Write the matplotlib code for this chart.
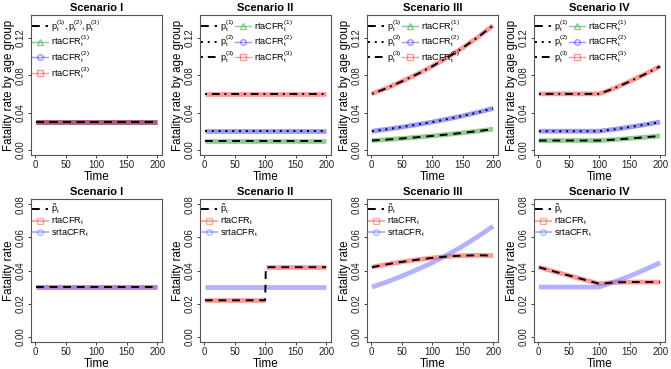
import matplotlib
matplotlib.use("Agg")
import matplotlib.pyplot as plt
import numpy as np
from matplotlib.lines import Line2D

plt.rcParams["font.family"] = ["Liberation Sans", "DejaVu Sans"]
plt.rcParams["mathtext.fontset"] = "custom"
plt.rcParams["mathtext.rm"] = "Liberation Sans"
plt.rcParams["mathtext.it"] = "Liberation Sans:italic"

# time points
t = [1, 25, 50, 75, 100, 125, 150, 175, 200]
t_step = [1, 25, 50, 75, 100, 101, 125, 150, 175, 200]

# top row: age-group fatality rates
sc1_g1 = [0.03] * 9
sc1_g2 = [0.03] * 9
sc1_g3 = [0.03] * 9
sc2_g1 = [0.01] * 9
sc2_g2 = [0.02] * 9
sc2_g3 = [0.06] * 9
sc3_g1 = [0.010, 0.011, 0.0122, 0.0135, 0.0149, 0.0165, 0.0182, 0.0201, 0.0222]
sc3_g2 = [0.020, 0.022, 0.0244, 0.027, 0.0298, 0.033, 0.0364, 0.0402, 0.0444]
sc3_g3 = [0.060, 0.066, 0.0733, 0.081, 0.0895, 0.099, 0.1093, 0.1207, 0.1333]
sc4_g1 = [0.01, 0.01, 0.01, 0.01, 0.01, 0.0110, 0.0122, 0.0135, 0.0149]
sc4_g2 = [0.02, 0.02, 0.02, 0.02, 0.02, 0.022, 0.0244, 0.027, 0.0298]
sc4_g3 = [0.06, 0.06, 0.06, 0.06, 0.06, 0.066, 0.0733, 0.081, 0.0895]

# bottom row: overall fatality rate
b1_p = [0.03] * 9
b1_srta = [0.03] * 9
b2_p = [0.022, 0.022, 0.022, 0.022, 0.022, 0.042, 0.042, 0.042, 0.042, 0.042]
b2_srta = [0.03] * 10
b3_p = [0.042, 0.0437, 0.0452, 0.0465, 0.0476, 0.0485, 0.0490, 0.0492, 0.0490]
b3_srta = [0.030, 0.0330, 0.0366, 0.0405, 0.0447, 0.0495, 0.0547, 0.0605, 0.0668]
b4_p = [0.042, 0.0395, 0.037, 0.0345, 0.032, 0.0328, 0.033, 0.033, 0.033]
b4_srta = [0.03, 0.03, 0.03, 0.03, 0.03, 0.0332, 0.0366, 0.0405, 0.0447]

titles = ["Scenario I", "Scenario II", "Scenario III", "Scenario IV"]
top_data = [(sc1_g1, sc1_g2, sc1_g3), (sc2_g1, sc2_g2, sc2_g3),
            (sc3_g1, sc3_g2, sc3_g3), (sc4_g1, sc4_g2, sc4_g3)]
bot_data = [(t, b1_p, b1_srta), (t_step, b2_p, b2_srta),
            (t, b3_p, b3_srta), (t, b4_p, b4_srta)]

green = (0.15, 0.6, 0.15)
blue = (0.2, 0.2, 1.0)
lblue = (0.45, 0.45, 1.0)
red = (1.0, 0.2, 0.2)

W, H = 671, 369
fig = plt.figure(figsize=(W / 100, H / 100), dpi=100)

lefts = [31, 200, 367, 534]
width = 131
rows = [(15, 155), (199, 342)]

dash = (0, (4, 3))
dot = (0, (1, 2.5))
dashdot = (0, (1, 2.5, 4, 2.5))
leg_kw = dict(loc="upper left", bbox_to_anchor=(0.0, 0.985), frameon=False,
              fontsize=6.6, handlelength=1.8, handletextpad=0.3,
              labelspacing=0.0, borderpad=0.1, borderaxespad=0)


def style_axes(ax, yticks, ylabel, title):
    ax.set_xlim(-7, 208)
    ax.set_xticks([0, 50, 100, 150, 200])
    ax.set_yticks(yticks)
    ax.set_yticklabels([f"{v:.2f}" for v in yticks], rotation=90, va="center")
    ax.tick_params(length=2.3, width=0.6, labelsize=7, pad=1.5, colors="#222")
    for s in ax.spines.values():
        s.set_color("#555")
        s.set_linewidth(0.8)
    ax.set_xlabel("Time", fontsize=8.5, labelpad=0.5)
    ax.set_ylabel(ylabel, fontsize=8.3, labelpad=0.5)
    ax.set_title(title, fontsize=8, fontweight="bold", pad=3)


def band(ax, x, y, color, alpha=0.5):
    ax.plot(x, y, color=color, lw=3.4, alpha=alpha, solid_capstyle="butt")


for i in range(4):
    top, bot = rows[0]
    ax = fig.add_axes([lefts[i] / W, (H - bot) / H, width / W, (bot - top) / H])
    g1, g2, g3 = top_data[i]
    band(ax, t, g1, green)
    band(ax, t, g2, blue)
    band(ax, t, g3, red)
    ls = [dash, dash, dash] if i == 0 else [dash, dot, dashdot]
    for g, l in zip((g1, g2, g3), ls):
        ax.plot(t, g, color="black", lw=1.4, linestyle=l)
    ax.set_ylim(-0.0055, 0.1445)
    style_axes(ax, [0, 0.04, 0.08, 0.12], "Fatality rate by age group", titles[i])

    col_h = [
        Line2D([], [], color=green, alpha=0.5, lw=1, marker="^", mfc="none", ms=4),
        Line2D([], [], color=blue, alpha=0.5, lw=1, marker="o", mfc="none", ms=4),
        Line2D([], [], color=red, alpha=0.5, lw=1, marker="s", mfc="none", ms=4),
    ]
    col_l = [r"rtaCFR$_\mathrm{t}^{(1)}$", r"rtaCFR$_\mathrm{t}^{(2)}$",
             r"rtaCFR$_\mathrm{t}^{(3)}$"]
    if i == 0:
        handles = [Line2D([], [], color="black", lw=1.4, linestyle=dash)] + col_h
        labels = [r"$\mathrm{p}_\mathrm{t}^{(1)}, \mathrm{p}_\mathrm{t}^{(2)}, \mathrm{p}_\mathrm{t}^{(3)}$"] + col_l
        ax.legend(handles, labels, **leg_kw)
    else:
        handles = [Line2D([], [], color="black", lw=1.4, linestyle=l) for l in ls] + col_h
        labels = [r"$\mathrm{p}_\mathrm{t}^{(%d)}$" % k for k in (1, 2, 3)] + col_l
        ax.legend(handles, labels, ncol=2, columnspacing=0.0, **leg_kw)

for i in range(4):
    top, bot = rows[1]
    ax = fig.add_axes([lefts[i] / W, (H - bot) / H, width / W, (bot - top) / H])
    x, p, s = bot_data[i]
    xa = np.array(x)
    pa = np.array(p)
    if i == 1:
        m = xa <= 100
        band(ax, xa[m], pa[m], red)
        band(ax, xa[~m], pa[~m], red)
    else:
        band(ax, x, p, red)
    band(ax, x, s, lblue, alpha=0.55)
    ax.plot(x, p, color="black", lw=1.4, linestyle=dash)
    ax.set_ylim(-0.0032, 0.0832)
    style_axes(ax, [0, 0.02, 0.04, 0.06, 0.08], "Fatality rate", titles[i])
    handles = [
        Line2D([], [], color="black", lw=1.4, linestyle=dash),
        Line2D([], [], color=red, alpha=0.4, lw=1.5, marker="s", mfc="none", ms=4),
        Line2D([], [], color=lblue, alpha=0.5, lw=1.5, marker="o", mfc="none", ms=4),
    ]
    labels = [r"$\tilde{\mathrm{p}}_\mathrm{t}$", r"rtaCFR$_\mathrm{t}$", r"srtaCFR$_\mathrm{t}$"]
    ax.legend(handles, labels, **leg_kw)

fig.savefig("out.png", dpi=100)
